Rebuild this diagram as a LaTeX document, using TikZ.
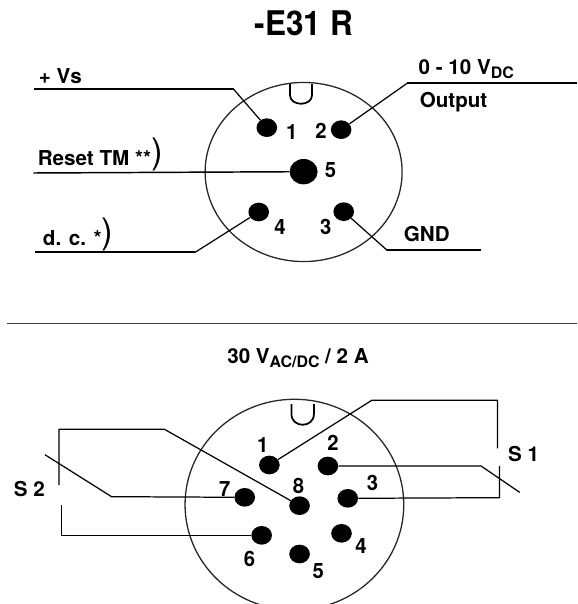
\documentclass[tikz,border=0pt]{standalone}
\usepackage{fontspec}
\setmainfont{TeX Gyre Heros}
\usetikzlibrary{shapes.geometric}
\newcommand{\subidx}[1]{\raisebox{-0.35ex}{\fontsize{13.5}{13.5}\selectfont #1}}
\newcommand{\bigparen}{\textnormal{\fontsize{30}{30}\selectfont\raisebox{0.1ex}{)}}}

\begin{document}
\begin{tikzpicture}[
  x=0.01cm, y=-0.01cm, xscale=1.104, transform shape,
  pin/.style={circle, fill=black, inner sep=0pt, minimum size=0.56cm},
  bigpin/.style={circle, fill=black, inner sep=0pt, minimum size=0.76cm},
  body/.style={draw=black!85, line width=1.1pt, ellipse, inner sep=0pt},
  wire/.style={line width=1.05pt, line join=round},
  hwire/.style={line width=1.7pt},
  notch/.style={line width=1.5pt},
  lbl/.style={anchor=base west, inner sep=0pt, xscale=0.91, font=\fontsize{17.5}{19}\selectfont\bfseries},
  pinno/.style={inner sep=0pt, xscale=0.87, font=\fontsize{18}{19}\selectfont\bfseries}
]
  \useasboundingbox (0, 0) rectangle (1568, 1812);

  \node[inner sep=0pt, xscale=0.84, font=\fontsize{29}{30}\selectfont\bfseries] (title) at (826, 70) {-E31 R};

  % upper connector
  \node[body, minimum width=5.35cm, minimum height=5.37cm] (topbody) at (825, 516) {};
  \draw[notch] (788, 252) -- (788, 285) .. controls (788, 320) and (848, 320) .. (848, 285) -- (848, 252);

  \node[pin] (a1) at (725, 383) {};
  \node[pin] (a2) at (927, 389) {};
  \node[pin] (a3) at (934, 635) {};
  \node[pin] (a4) at (703, 636) {};
  \node[bigpin] (a5) at (825, 515) {};

  \node[pinno] (na1) at (793, 395) {1};
  \node[pinno] (na2) at (872, 392) {2};
  \node[pinno] (na3) at (885, 680) {3};
  \node[pinno] (na4) at (761, 680) {4};
  \node[pinno] (na5) at (898, 510) {5};

  \coordinate (vsend) at (92, 268);
  \coordinate (vsbend) at (635, 268);
  \coordinate (outend) at (1568, 250);
  \coordinate (outbend) at (1106, 250);
  \coordinate (rstend) at (91, 519);
  \coordinate (dcend) at (95, 757);
  \coordinate (dcbend) at (530, 757);
  \coordinate (gndend) at (1307, 751);
  \coordinate (gndbend) at (1052, 751);

  \draw[hwire] (vsend) -- (vsbend);
  \draw[wire] (vsbend) -- (a1);
  \draw[hwire] (outend) -- (outbend);
  \draw[wire] (outbend) -- (a2);
  \draw[line width=1.25pt] (rstend) -- (a5);
  \draw[hwire] (dcend) -- (dcbend);
  \draw[wire] (dcbend) -- (a4);
  \draw[hwire] (gndend) -- (gndbend);
  \draw[wire] (gndbend) -- (a3);

  \node[lbl] (vs) at (105, 250) {+ Vs};
  \node[lbl] (volt) at (1137, 224) {0 - 10 V\subidx{DC}};
  \node[lbl] (output) at (1140, 323) {Output};
  \node[lbl] (rst) at (102, 497) {Reset TM **\bigparen};
  \node[lbl] (dc) at (116, 737) {d. c. *\bigparen};
  \node[lbl] (gnd) at (1097, 725) {GND};

  \coordinate (sepl) at (20, 971);
  \coordinate (sepr) at (1568, 971);
  \draw[draw=black!75, line width=0.95pt] (sepl) -- (sepr);

  \node[lbl] (rating) at (617, 1090) {30 V\subidx{AC/DC} / 2 A};

  % lower connector
  \node[body, minimum width=5.94cm, minimum height=6.32cm] (lowbody) at (800, 1514) {};
  \draw[notch] (792, 1212) -- (792, 1242) .. controls (792, 1285) and (853, 1285) .. (853, 1242) -- (853, 1212);

  \node[pin] (b1) at (732, 1395) {};
  \node[pin] (b2) at (891, 1398) {};
  \node[pin] (b3) at (945, 1495) {};
  \node[pin] (b4) at (928, 1600) {};
  \node[pin] (b5) at (814, 1662) {};
  \node[pin] (b6) at (711, 1606) {};
  \node[pin] (b7) at (665, 1492) {};
  \node[pin] (b8) at (814, 1517) {};

  \node[pinno] (nb1) at (714, 1336) {1};
  \node[pinno] (nb2) at (905, 1328) {2};
  \node[pinno] (nb3) at (1012, 1449) {3};
  \node[pinno] (nb4) at (981, 1638) {4};
  \node[pinno] (nb5) at (865, 1714) {5};
  \node[pinno] (nb6) at (678, 1677) {6};
  \node[pinno] (nb7) at (611, 1468) {7};
  \node[pinno] (nb8) at (811, 1458) {8};

  \coordinate (sa) at (1010, 1201);
  \coordinate (sb) at (1352, 1201);
  \coordinate (sc) at (1352, 1345);
  \coordinate (sd) at (1307, 1398);
  \coordinate (se) at (1412, 1477);
  \coordinate (sf) at (1357, 1493);
  \coordinate (sg) at (1357, 1398);
  \coordinate (ta) at (167, 1606);
  \coordinate (tb) at (167, 1515);
  \coordinate (tc) at (303, 1490);
  \coordinate (td) at (122, 1364);
  \coordinate (te) at (447, 1288);
  \coordinate (tf) at (160, 1288);
  \coordinate (tg) at (160, 1455);

  \draw[wire] (b1) -- (sa) -- (sb) -- (sc);
  \draw[wire] (b2) -- (sd) -- (se);
  \draw[wire] (b3) -- (sf) -- (sg);
  \draw[wire] (b6) -- (ta);
  \draw[line width=1.5pt] (ta) -- (tb);
  \draw[wire] (b7) -- (tc) -- (td);
  \draw[wire] (b8) -- (te) -- (tf) -- (tg);

  \node[lbl] (s1) at (1380, 1385) {S 1};
  \node[lbl] (s2) at (37, 1490) {S 2};
\end{tikzpicture}
\end{document}
